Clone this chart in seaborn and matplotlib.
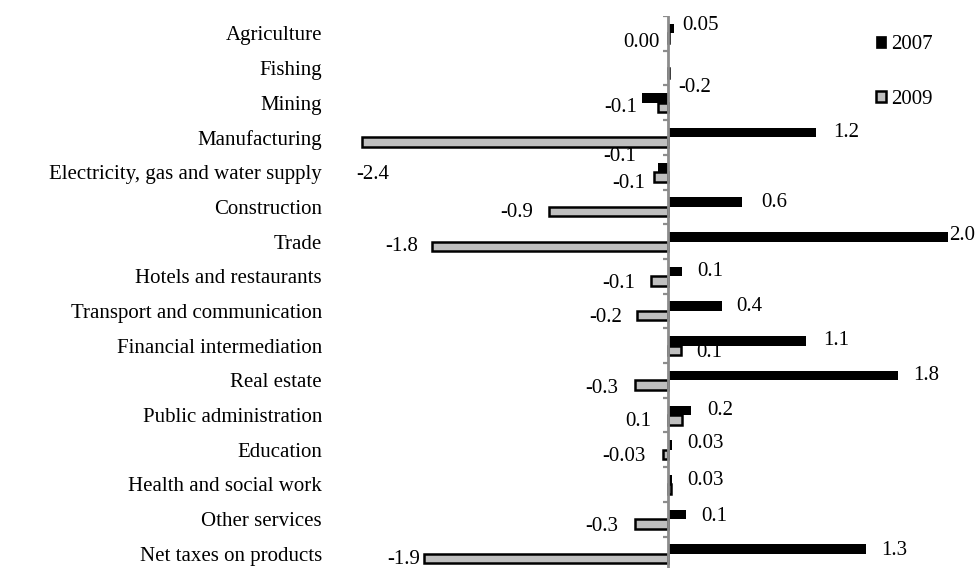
import numpy as np
import pandas as pd
import matplotlib
matplotlib.use("Agg")
import matplotlib.pyplot as plt
from matplotlib.patches import Patch
import seaborn as sns

sectors = ["Agriculture", "Fishing", "Mining", "Manufacturing",
           "Electricity, gas and water supply", "Construction", "Trade",
           "Hotels and restaurants", "Transport and communication",
           "Financial intermediation", "Real estate", "Public administration",
           "Education", "Health and social work", "Other services",
           "Net taxes on products"]
years = ["2007", "2009"]
v2007 = [0.05, 0.01, -0.20, 1.16, -0.08, 0.58, 2.19, 0.11, 0.42, 1.08, 1.80,
         0.18, 0.03, 0.03, 0.14, 1.55]
v2009 = [0.01, 0.01, -0.08, -2.39, -0.11, -0.93, -1.84, -0.13, -0.24, 0.10,
         -0.26, 0.11, -0.04, 0.02, -0.26, -1.91]
lab2007 = ["0.05", "", "-0.2", "1.2", "-0.1", "0.6", "2.0", "0.1", "0.4", "1.1",
           "1.8", "0.2", "0.03", "0.03", "0.1", "1.3"]
lab2009 = ["0.00", "", "-0.1", "-2.4", "-0.1", "-0.9", "-1.8", "-0.1", "-0.2",
           "0.1", "-0.3", "0.1", "-0.03", "", "-0.3", "-1.9"]

# label offsets in pixels (dx right, dy down) relative to bar end / bar centre
off2007 = [(26, -3), (0, 0), (52, -10), (30, 0), (-38, -11), (32, 0), (14, -1),
           (28, 0), (28, 0), (30, 0), (28, 0), (29, 0), (34, -1), (34, 1),
           (28, 2), (28, 1)]
off2009 = [(-28, 4), (0, 0), (-37, 0), (11, 32), (-25, 7), (-32, 1), (-31, 0),
           (-33, 2), (-32, 2), (28, 2), (-33, 3), (-44, 2), (-39, 2), (0, 0),
           (-33, 3), (-20, 1)]

df = pd.DataFrame({
    "sector": sectors * 2,
    "year": [years[0]] * len(sectors) + [years[1]] * len(sectors),
    "value": v2007 + v2009,
})

FONT = ["Liberation Serif", "DejaVu Serif"]
plt.rcParams["font.family"] = FONT
FS = 15

W, H = 978, 568
fig = plt.figure(figsize=(W / 100, H / 100), dpi=100)
left_px, right_px, top_px, step_px = 340, 978, 16, 34.7
n = len(sectors)
bottom_px = top_px + step_px * n
ax = fig.add_axes([left_px / W, 1 - bottom_px / H, (right_px - left_px) / W,
                   (bottom_px - top_px) / H])

gray = "#BFBFBF"
sns.barplot(data=df, y="sector", x="value", hue="year", hue_order=years,
            orient="h", palette={"2007": "black", "2009": gray},
            width=0.55, saturation=1, legend=False, ax=ax, errorbar=None)

for p in ax.containers[1]:
    p.set_edgecolor("black")
    p.set_linewidth(1.8)

zero_px, scale = 668, 128.0
xmin = (left_px - zero_px) / scale
xmax = (right_px - zero_px) / scale
ax.set_xlim(xmin, xmax)
ax.set_ylim(n - 0.5, -0.5)

for s in ax.spines.values():
    s.set_visible(False)
ax.set_xticks([])
ax.set_xlabel("")
ax.set_ylabel("")
ax.tick_params(axis="y", length=0, pad=13, labelsize=FS)
for t in ax.get_yticklabels():
    t.set_fontfamily(FONT)

# vertical axis at zero with boundary ticks pointing left
axis_gray = "#8C8C8C"
ax.axvline(0, color=axis_gray, linewidth=2.0, zorder=5)
tick_len = 5 / scale
ax.hlines(np.arange(-0.5, n, 1.0), -tick_len, 0, color=axis_gray,
          linewidth=1.6, zorder=5)

# value labels
for cont, labels, offs in [(ax.containers[0], lab2007, off2007),
                           (ax.containers[1], lab2009, off2009)]:
    for bar, txt, (dx, dy) in zip(cont, labels, offs):
        if not txt:
            continue
        x_end = bar.get_x() + bar.get_width()
        y_c = bar.get_y() + bar.get_height() / 2
        ax.annotate(txt, xy=(x_end, y_c), xytext=(dx, -dy),
                    textcoords="offset pixels", ha="center", va="center",
                    fontsize=FS, fontfamily=FONT, annotation_clip=False)

handles = [Patch(facecolor="black", edgecolor="black", linewidth=0.5),
           Patch(facecolor=gray, edgecolor="black", linewidth=1.8)]
fig.legend(handles, years, loc="upper left",
           bbox_to_anchor=(876 / W, 1 - 35 / H), frameon=False,
           handlelength=0.5, handleheight=0.5, handletextpad=0.25,
           labelspacing=1.72, borderpad=0, borderaxespad=0,
           prop={"family": FONT, "size": FS})

fig.savefig("out.png", dpi=100)
